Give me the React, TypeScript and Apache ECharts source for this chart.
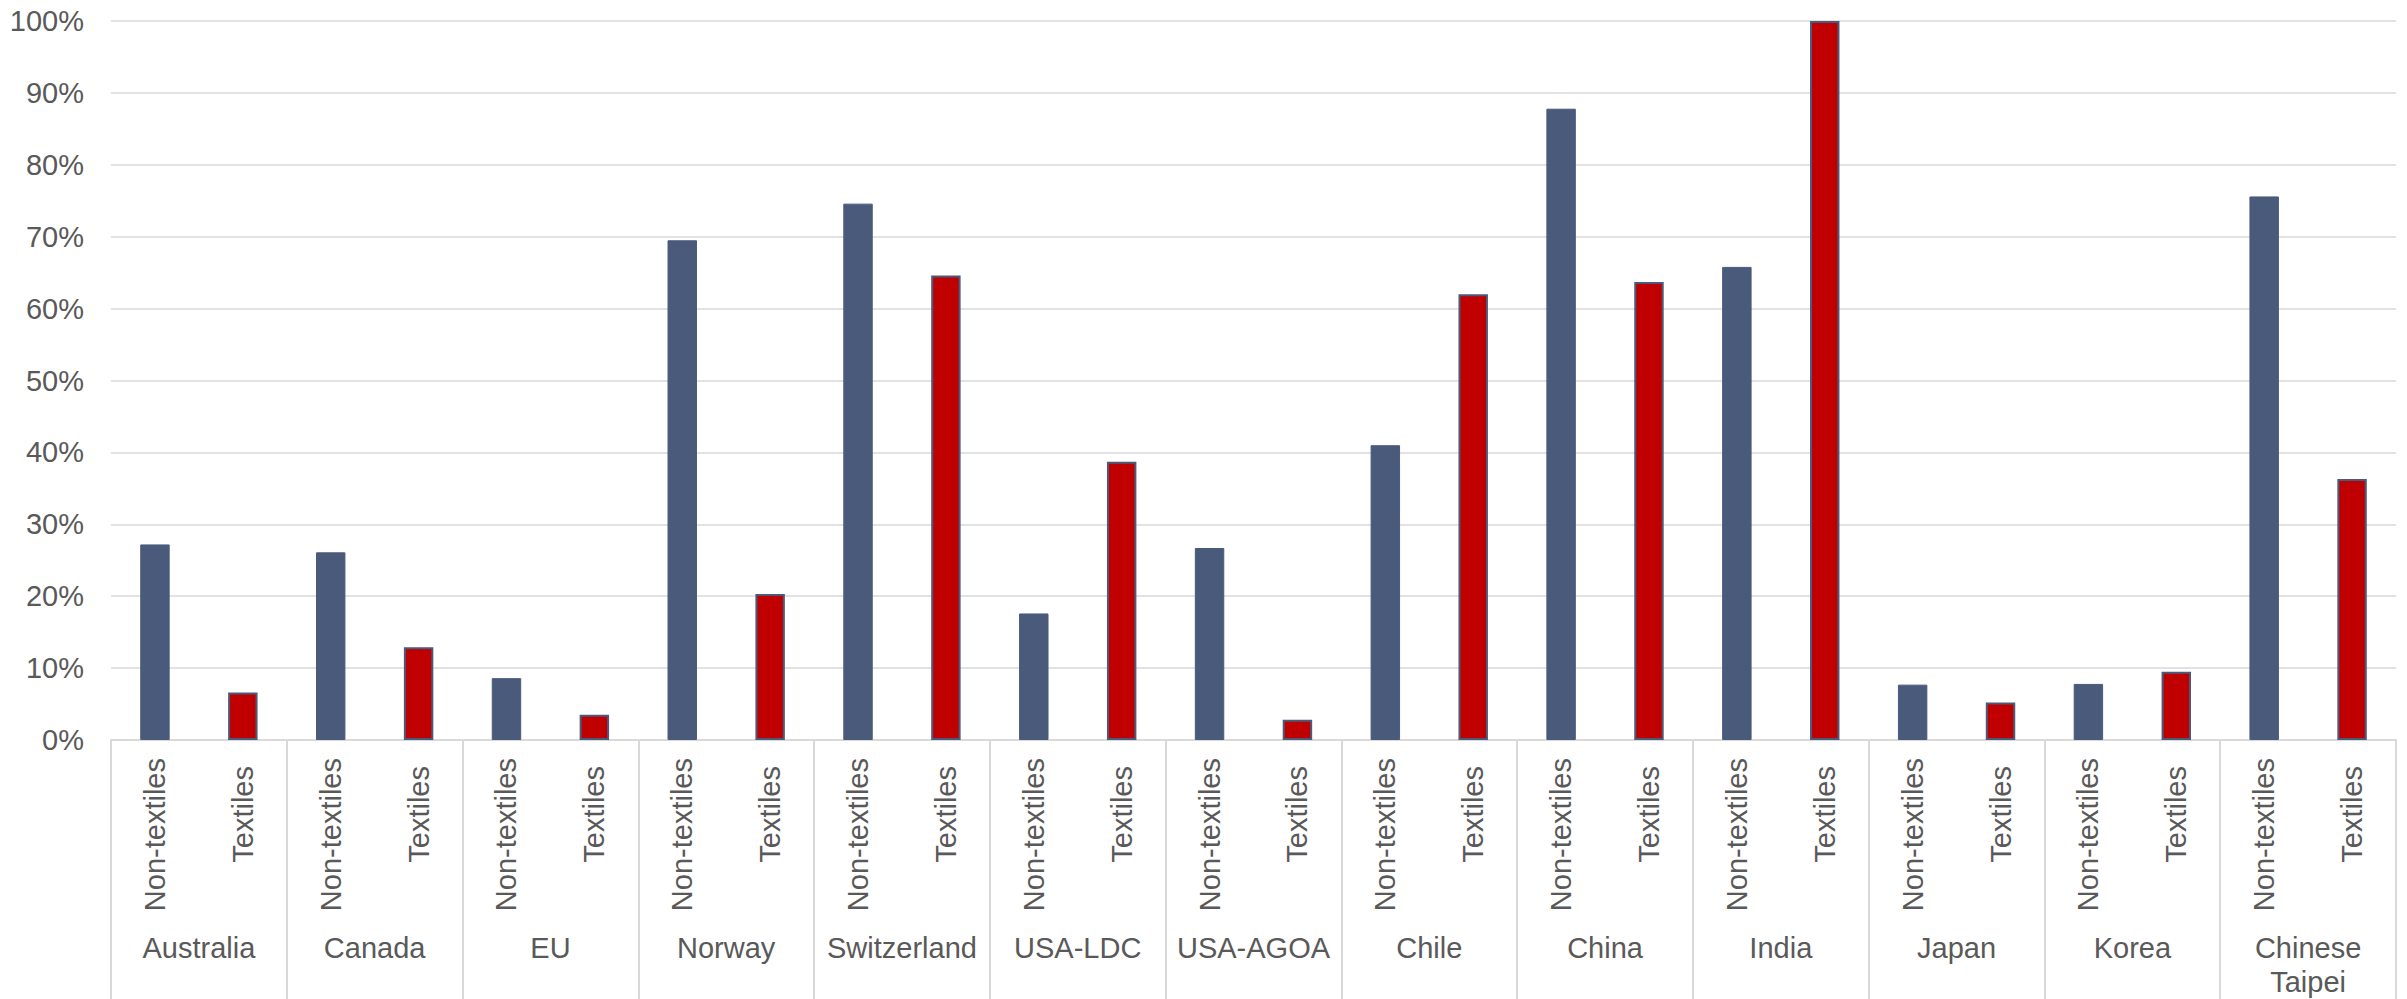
import React, { useEffect, useRef } from "react";
import * as echarts from "echarts";

const groups = [
  "Australia",
  "Canada",
  "EU",
  "Norway",
  "Switzerland",
  "USA-LDC",
  "USA-AGOA",
  "Chile",
  "China",
  "India",
  "Japan",
  "Korea",
  "Chinese\nTaipei",
];
const subCategories = ["Non-textiles", "Textiles"];
const nonTextiles = [27.2, 26.1, 8.6, 69.5, 74.6, 17.6, 26.7, 41.0, 87.8, 65.8, 7.7, 7.8, 75.6];
const textiles = [6.6, 12.9, 3.5, 20.3, 64.6, 38.7, 2.8, 62.0, 63.7, 100, 5.2, 9.5, 36.3];
const yTicks = { min: 0, max: 100, interval: 10 };

const BLUE = "#4a5a7b";
const RED = "#c00000";
const TEXT = "#595959";
const GRID = "#d9d9d9";
const FONT = "'Liberation Sans', Arial, sans-serif";

export default function App() {
  const ref = useRef<HTMLDivElement>(null);

  useEffect(() => {
    if (!ref.current) return;
    const chart = echarts.init(ref.current, undefined, { renderer: "svg" });

    const innerCats: any[] = [];
    const barData: any[] = [];
    groups.forEach((g, i) => {
      innerCats.push({ value: subCategories[0] });
      innerCats.push({ value: subCategories[1], textStyle: { padding: [0, 8, 0, 0] } });
      barData.push({ value: nonTextiles[i], itemStyle: { color: BLUE, borderColor: BLUE, borderWidth: 1 } });
      barData.push({ value: textiles[i], itemStyle: { color: RED, borderColor: BLUE, borderWidth: 2 } });
    });

    chart.setOption({
      animation: false,
      backgroundColor: "#ffffff",
      grid: { left: 111, right: 11, top: 21, bottom: 259, containLabel: false },
      xAxis: [
        {
          type: "category",
          data: innerCats,
          position: "bottom",
          axisLine: { show: true, lineStyle: { color: GRID, width: 2 } },
          axisTick: { show: false },
          axisLabel: {
            interval: 0,
            rotate: 90,
            margin: 18,
            color: TEXT,
            fontSize: 29,
            fontFamily: FONT,
          },
          splitLine: { show: false },
        },
        {
          type: "category",
          data: groups,
          position: "bottom",
          gridIndex: 0,
          axisLine: { show: false },
          axisTick: {
            show: true,
            interval: 0,
            length: 260,
            lineStyle: { color: GRID, width: 2 },
          },
          axisLabel: {
            interval: 0,
            margin: 191,
            color: TEXT,
            fontSize: 29,
            lineHeight: 34,
            fontFamily: FONT,
          },
          splitLine: { show: false },
        },
      ],
      yAxis: {
        type: "value",
        min: yTicks.min,
        max: yTicks.max,
        interval: yTicks.interval,
        axisLine: { show: false },
        axisTick: { show: false },
        axisLabel: {
          formatter: "{value}%",
          margin: 27,
          color: TEXT,
          fontSize: 29,
          fontFamily: FONT,
        },
        splitLine: { show: true, lineStyle: { color: GRID, width: 1.5 } },
      },
      series: [
        {
          type: "bar",
          xAxisIndex: 0,
          data: barData,
          barWidth: "33.5%",
        },
      ],
    });

    return () => {
      chart.dispose();
    };
  }, []);

  return (
    <div
      ref={ref}
      style={{ position: "absolute", left: 0, top: 0, width: 2407, height: 999 }}
    />
  );
}
